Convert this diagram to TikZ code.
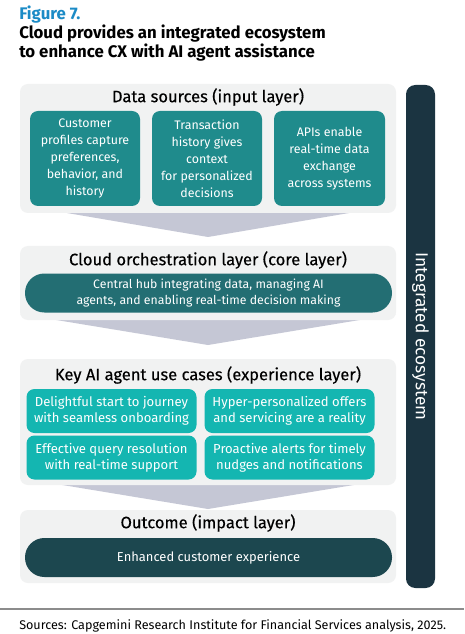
\documentclass[tikz,border=0pt]{standalone}
\usepackage{fontspec}
\setmainfont{Fira Sans}
\newfontfamily\medfont{Fira Sans}[FakeBold=0.35]
\definecolor{figblue}{HTML}{1B8BC6}
\definecolor{panelgray}{HTML}{F1F2F2}
\definecolor{chevgray}{HTML}{C5C7D5}
\definecolor{tealA}{HTML}{1F8B8C}
\definecolor{tealB}{HTML}{236E73}
\definecolor{tealC}{HTML}{14B6B1}
\definecolor{tealD}{HTML}{1C474F}
\definecolor{barcol}{HTML}{1B3441}
\definecolor{rulegray}{HTML}{8C8C8C}
\newdimen\u
\u=0.75pt
\begin{document}
\begin{tikzpicture}[x=0.75pt,y=-0.75pt,
  panel/.style={fill=panelgray, rounded corners=6pt, draw=none},
  chev/.style={fill=chevgray, draw=none},
  ptitle/.style={font=\medfont\fontsize{12.4pt}{14pt}\selectfont, text=black},
  boxA/.style={fill=tealA, rounded corners=6pt, text=white, align=center, inner sep=0pt,
     font=\fontsize{9.3pt}{12.75pt}\selectfont},
  boxC/.style={fill=tealC, rounded corners=6pt, text=white, align=center, inner sep=0pt,
     font=\fontsize{9.8pt}{12pt}\selectfont, minimum width=170*\u, minimum height=44*\u},
  pill/.style={rounded corners=14.5pt, text=white, align=center, inner sep=0pt,
     minimum width=367*\u, minimum height=39*\u},
  ttl/.style={anchor=base west, inner sep=0pt, font=\fontsize{12.6pt}{15pt}\selectfont\bfseries}
]
\useasboundingbox (0,0) rectangle (464,634);
\fill[white] (0,0) rectangle (464,634);

% title
\node[ttl, text=figblue] (fig) at (19,20) {Figure 7.};
\node[ttl] (title1) at (19,38.5) {Cloud provides an integrated ecosystem};
\node[ttl] (title2) at (19,58) {to enhance CX with AI agent assistance};

% side bar
\node[fill=barcol, rounded corners=7pt, minimum width=29*\u, minimum height=503*\u, inner sep=0pt] (bar) at (420.5,336.5) {};
\node[rotate=-90, text=white, font=\fontsize{13pt}{15pt}\selectfont] (bartext) at (bar.center) {Integrated ecosystem};

% layer 1
\fill[chev] (20,205) -- (396,205) -- (208,237) -- cycle;
\node[panel, minimum width=376*\u, minimum height=129*\u, inner sep=0pt] (p1) at (208,148.5) {};
\node[ptitle] (t1) at (208,97) {Data sources (input layer)};
\node[boxA, minimum width=110*\u, minimum height=95*\u] (a1) at (85,158.5) {Customer\\profiles capture\\preferences,\\behavior, and\\history};
\node[boxA, minimum width=110*\u, minimum height=95*\u] (a2) at (207,158.5) {Transaction\\history gives\\context\\for personalized\\decisions};
\node[boxA, minimum width=111*\u, minimum height=95*\u] (a3) at (329.5,158.5) {APIs enable\\real-time data\\exchange\\across systems};

% layer 2
\fill[chev] (20,314) -- (396,314) -- (208,345) -- cycle;
\node[panel, minimum width=376*\u, minimum height=74*\u, inner sep=0pt] (p2) at (208,283) {};
\node[ptitle] (t2) at (208,260) {Cloud orchestration layer (core layer)};
\node[pill, fill=tealB, font=\fontsize{9.2pt}{12.5pt}\selectfont] (b2) at (208.5,293) {Central hub integrating data, managing AI\\agents, and enabling real-time decision making};

% layer 3
\fill[chev] (20,478) -- (396,478) -- (208,509) -- cycle;
\node[panel, minimum width=376*\u, minimum height=126*\u, inner sep=0pt] (p3) at (208,422) {};
\node[ptitle] (t3) at (208,375) {Key AI agent use cases (experience layer)};
\node[boxC] (c1) at (111.5,411) {Delightful start to journey\\with seamless onboarding};
\node[boxC] (c2) at (289.5,411) {Hyper-personalized offers\\and servicing are a reality};
\node[boxC] (c3) at (111.5,457.5) {Effective query resolution\\with real-time support};
\node[boxC] (c4) at (289.5,457.5) {Proactive alerts for timely\\nudges and notifications};

% layer 4
\node[panel, minimum width=376*\u, minimum height=73*\u, inner sep=0pt] (p4) at (208,546.5) {};
\node[ptitle] (t4) at (208,523) {Outcome (impact layer)};
\node[pill, fill=tealD, font=\fontsize{9.7pt}{12pt}\selectfont] (b4) at (208.5,557.5) {Enhanced customer experience};

% footer
\coordinate (rl) at (0,609);
\coordinate (rr) at (464,609);
\draw[rulegray, line width=0.8pt] (rl) -- (rr);
\node[anchor=base west, inner sep=0pt, font=\fontsize{9.45pt}{11pt}\selectfont] (src) at (19,629) {Sources: Capgemini Research Institute for Financial Services analysis, 2025.};
\end{tikzpicture}
\end{document}
